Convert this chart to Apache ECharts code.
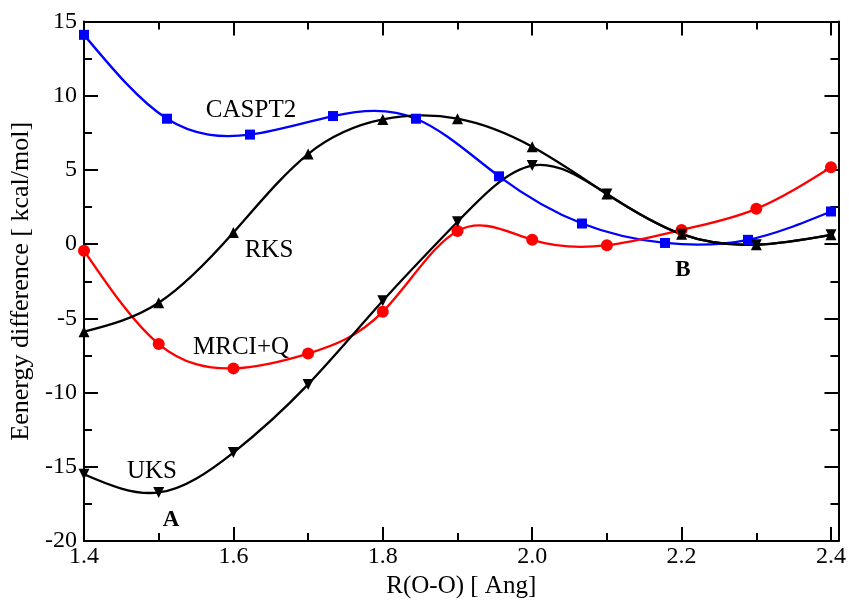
<!DOCTYPE html>
<html>
<head>
<meta charset="utf-8">
<script src="https://cdn.jsdelivr.net/npm/echarts@6/dist/echarts.min.js"></script>
<style>
html,body{margin:0;padding:0;background:#fff;}
#chart{width:849px;height:604px;}
</style>
</head>
<body>
<div id="chart"></div>
<script>
// ---- data ----
var xRegular = [1.4, 1.5, 1.6, 1.7, 1.8, 1.9, 2.0, 2.1, 2.2, 2.3, 2.4];
var xCaspt2 = [1.4, 1.5111, 1.6222, 1.7333, 1.8444, 1.9556, 2.0667, 2.1778, 2.2889, 2.4];
var caspt2 = [14.1, 8.45, 7.38, 8.63, 8.45, 4.57, 1.39, 0.08, 0.29, 2.2];
var rks = [-5.9, -3.95, 0.78, 6.07, 8.4, 8.45, 6.56, 3.38, 0.67, -0.04, 0.63];
var uks = [-15.5, -16.73, -14.04, -9.45, -3.82, 1.51, 5.29, 3.38, 0.67, -0.04, 0.63];
var mrciq = [-0.44, -6.73, -8.37, -7.37, -4.55, 0.89, 0.29, -0.07, 0.96, 2.38, 5.18];
var xTickLabels = ['1.4', '1.6', '1.8', '2.0', '2.2', '2.4'];
var yTickLabels = ['-20', '-15', '-10', '-5', '0', '5', '10', '15'];

function pairs(xs, ys) { return xs.map(function (x, i) { return [x, ys[i]]; }); }

// natural cubic spline slopes at the knots (used to draw the curve as exact Bezier segments)
function splineSlopes(xs, ys) {
  var n = xs.length, h = [], i;
  for (i = 0; i < n - 1; i++) h.push(xs[i + 1] - xs[i]);
  var a = [], b = [], c = [], d = [];
  for (i = 0; i < n; i++) {
    if (i === 0 || i === n - 1) { a.push(0); b.push(1); c.push(0); d.push(0); }
    else {
      a.push(h[i - 1]); b.push(2 * (h[i - 1] + h[i])); c.push(h[i]);
      d.push(6 * ((ys[i + 1] - ys[i]) / h[i] - (ys[i] - ys[i - 1]) / h[i - 1]));
    }
  }
  for (i = 1; i < n; i++) { var w = a[i] / b[i - 1]; b[i] -= w * c[i - 1]; d[i] -= w * d[i - 1]; }
  var M = new Array(n); M[n - 1] = d[n - 1] / b[n - 1];
  for (i = n - 2; i >= 0; i--) M[i] = (d[i] - c[i] * M[i + 1]) / b[i];
  var s = [];
  for (i = 0; i < n - 1; i++) s.push((ys[i + 1] - ys[i]) / h[i] - h[i] * (2 * M[i] + M[i + 1]) / 6);
  var k = n - 2;
  s.push((ys[k + 1] - ys[k]) / h[k] + h[k] * (M[k] + 2 * M[k + 1]) / 6);
  return s;
}

var FONT = 'Liberation Serif';
var chart = echarts.init(document.getElementById('chart'));

function xAx(pos, major, labels) {
  return {
    type: 'value', position: pos, min: 1.4, max: 2.41,
    interval: major ? 0.2 : 0.1,
    axisLine: { show: major, onZero: false, lineStyle: { color: '#000', width: 2 } },
    axisTick: { show: true, inside: true, length: major ? 14 : 8, lineStyle: { color: '#000', width: 2 } },
    splitLine: { show: false },
    axisLabel: {
      show: labels, margin: 4, fontFamily: FONT, fontSize: 24, color: '#000',
      formatter: function (v) {
        var s = v.toFixed(1);
        return (Math.abs(v - parseFloat(s)) < 1e-6 && xTickLabels.indexOf(s) >= 0) ? s : '';
      }
    },
    name: labels ? 'R(O-O) [ Ang]' : '', nameLocation: 'middle', nameGap: 33,
    nameTextStyle: { fontFamily: FONT, fontSize: 25, color: '#000' }
  };
}
function yAx(pos, major, labels) {
  return {
    type: 'value', position: pos, min: -20, max: 15,
    interval: major ? 5 : 2.5,
    axisLine: { show: major, onZero: false, lineStyle: { color: '#000', width: 2 } },
    axisTick: { show: true, inside: true, length: major ? 14 : 8, lineStyle: { color: '#000', width: 2 } },
    splitLine: { show: false },
    axisLabel: {
      show: labels, margin: 7, fontFamily: FONT, fontSize: 24, color: '#000',
      formatter: function (v) { var s = String(Math.round(v)); return yTickLabels.indexOf(s) >= 0 ? s : ''; }
    },
    name: labels ? 'Eenergy difference [ kcal/mol]' : '', nameLocation: 'middle', nameGap: 46,
    nameTextStyle: { fontFamily: FONT, fontSize: 26, color: '#000' }
  };
}

function curveSeries(name, xs, ys, color) {
  var slopes = splineSlopes(xs, ys);
  return {
    name: name, type: 'custom', xAxisIndex: 0, yAxisIndex: 0, clip: true, z: 2,
    data: pairs(xs, ys),
    renderItem: function (params, api) {
      if (params.dataIndex !== 0) return null;
      var p0 = api.coord([xs[0], ys[0]]);
      var d = 'M' + p0[0] + ' ' + p0[1];
      for (var i = 0; i < xs.length - 1; i++) {
        var h = xs[i + 1] - xs[i];
        var c1 = api.coord([xs[i] + h / 3, ys[i] + slopes[i] * h / 3]);
        var c2 = api.coord([xs[i + 1] - h / 3, ys[i + 1] - slopes[i + 1] * h / 3]);
        var p = api.coord([xs[i + 1], ys[i + 1]]);
        d += ' C' + c1[0] + ' ' + c1[1] + ' ' + c2[0] + ' ' + c2[1] + ' ' + p[0] + ' ' + p[1];
      }
      return { type: 'path', shape: { pathData: d },
               style: { fill: null, stroke: color, lineWidth: 2.3 } };
    },
    animation: false
  };
}

function markerSeries(name, data, color, symbol, size, rotate) {
  return {
    name: name, type: 'scatter', xAxisIndex: 0, yAxisIndex: 0,
    data: data, symbol: symbol, symbolSize: size, symbolRotate: rotate || 0,
    itemStyle: { color: color, borderWidth: 0, opacity: 1 },
    animation: false, z: 3
  };
}

var txt = function (text, x, y, size, bold) {
  return { type: 'text', x: x, y: y, z: 10,
    style: { text: text, fontFamily: FONT, fontSize: size, fontWeight: bold ? 'bold' : 'normal',
             fill: '#000', align: 'center', verticalAlign: 'middle' } };
};

chart.setOption({
  animation: false,
  backgroundColor: '#fff',
  grid: { left: 84, right: 10, top: 21.5, bottom: 57, containLabel: false },
  xAxis: [xAx('bottom', true, true), xAx('bottom', false, false), xAx('top', true, false), xAx('top', false, false)],
  yAxis: [yAx('left', true, true), yAx('left', false, false), yAx('right', true, false), yAx('right', false, false)],
  series: [
    curveSeries('CASPT2', xCaspt2, caspt2, '#0000ff'),
    curveSeries('MRCI+Q', xRegular, mrciq, '#ff0000'),
    curveSeries('RKS', xRegular, rks, '#000000'),
    curveSeries('UKS', xRegular, uks, '#000000'),
    markerSeries('CASPT2', pairs(xCaspt2, caspt2), '#0000ff', 'rect', 10),
    markerSeries('MRCI+Q', pairs(xRegular, mrciq), '#ff0000', 'circle', 12),
    markerSeries('RKS', pairs(xRegular, rks), '#000000', 'triangle', 11),
    markerSeries('UKS', pairs(xRegular, uks), '#000000', 'triangle', 11, 180)
  ],
  graphic: [
    txt('CASPT2', 251, 110, 25),
    txt('RKS', 269, 250, 25),
    txt('MRCI+Q', 241, 347, 25),
    txt('UKS', 152, 471, 25),
    txt('A', 171, 520, 23, true),
    txt('B', 683, 270, 23, true)
  ]
});
</script>
</body>
</html>
